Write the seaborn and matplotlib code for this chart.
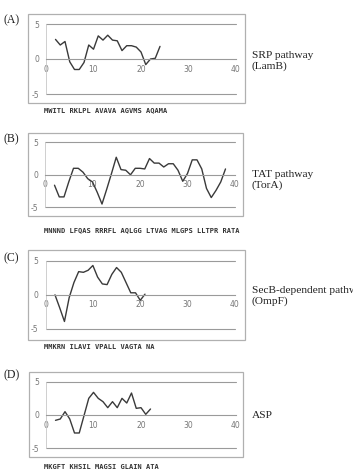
import numpy as np
import pandas as pd
import matplotlib
matplotlib.use("Agg")
import matplotlib.pyplot as plt
from matplotlib.patches import Rectangle
import seaborn as sns

# ---- data ----
a_pos = list(range(2, 25))
a_vals = [2.8, 2.0, 2.5, -0.4, -1.5, -1.5, -0.5, 2.0, 1.4, 3.3, 2.7, 3.4, 2.7, 2.6,
          1.2, 1.9, 1.9, 1.7, 1.0, -0.8, 0.0, 0.1, 1.8]
b_pos = list(range(2, 39))
b_vals = [-1.6, -3.4, -3.4, -1.1, 1.0, 1.0, 0.4, -0.6, -1.1, -2.7, -4.5, -2.2, 0.2,
          2.7, 0.8, 0.7, 0.0, 1.0, 1.0, 0.9, 2.5, 1.8, 1.8, 1.2, 1.7, 1.7, 0.7, -1.0,
          0.2, 2.3, 2.3, 0.9, -2.1, -3.5, -2.4, -1.1, 0.9]
c_pos = list(range(2, 22))
c_vals = [0.0, -1.9, -3.9, -0.4, 1.8, 3.4, 3.3, 3.6, 4.3, 2.6, 1.6, 1.5, 3.0, 4.0,
          3.3, 1.8, 0.3, 0.3, -0.8, 0.1]
d_pos = list(range(2, 23))
d_vals = [-0.8, -0.6, 0.5, -0.6, -2.7, -2.7, -0.1, 2.5, 3.4, 2.5, 2.0, 1.1, 2.0, 1.1,
          2.5, 1.8, 3.3, 1.0, 1.1, 0.1, 0.9]

panel_labels = ["(A)", "(B)", "(C)", "(D)"]
pathway_labels = ["SRP pathway\n(LamB)", "TAT pathway\n(TorA)",
                  "SecB-dependent pathway\n(OmpF)", "ASP"]
sequences = ["MWITL RKLPL AVAVA AGVMS AQAMA",
             "MNNND LFQAS RRRFL AQLGG LTVAG MLGPS LLTPR RATA",
             "MMKRN ILAVI VPALL VAGTA NA",
             "MKGFT KHSIL MAGSI GLAIN ATA"]
x_ticks = [0, 10, 20, 30, 40]
y_ticks = [-5, 0, 5]

series = [(a_pos, a_vals), (b_pos, b_vals), (c_pos, c_vals), (d_pos, d_vals)]

# ---- layout (pixels) ----
W, H = 353, 471
axes_px = [(46, 24, 236, 94), (45, 142.3, 235, 207.3),
           (45.5, 260.7, 235, 329), (46, 381.7, 236, 448.3)]
box_px = [(28, 14, 245, 103), (28, 133, 243, 216), (28, 250, 245, 340), (29, 372, 243, 457)]
label_y = [20, 139, 258, 375]
seq_y = [110, 230, 347, 467]
path_y = [61, 180, 296, 415]

sns.set_theme(style="white")
plt.rcParams['font.family'] = ['DejaVu Sans']

fig = plt.figure(figsize=(W / 100, H / 100), dpi=100)

def fx(px):
    return px / W

def fy(py):
    return 1 - py / H

gray = "#9a9a9a"
for i, (pos, vals) in enumerate(series):
    x0, y0, x1, y1 = axes_px[i]
    bx0, by0, bx1, by1 = box_px[i]
    fig.patches.append(Rectangle((fx(bx0), fy(by1)), fx(bx1 - bx0), (by1 - by0) / H,
                                 transform=fig.transFigure, fill=False,
                                 edgecolor="#b0b0b0", linewidth=0.9))
    ax = fig.add_axes([fx(x0), fy(y1), fx(x1 - x0), (y1 - y0) / H])
    df = pd.DataFrame({"pos": pos, "val": vals})
    sns.lineplot(data=df, x="pos", y="val", ax=ax, color="#3a3a3a", linewidth=1.0)
    ax.set_xlim(0, 40)
    ax.set_ylim(-5, 5)
    ax.set_xticks(x_ticks)
    ax.set_yticks(y_ticks)
    ax.set_xticklabels([str(t) for t in x_ticks])
    ax.set_yticklabels([str(t) for t in y_ticks])
    ax.set_xlabel("")
    ax.set_ylabel("")
    ax.patch.set_alpha(0)
    for s in ["top", "right"]:
        ax.spines[s].set_visible(False)
    ax.spines["bottom"].set_position(("data", 0))
    ax.spines["bottom"].set_color(gray)
    ax.spines["bottom"].set_linewidth(0.8)
    ax.spines["left"].set_color("#c8c8c8")
    ax.spines["left"].set_linewidth(0.6)
    for yv in (5, -5):
        ax.axhline(yv, color=gray, linewidth=0.8, zorder=0, clip_on=False)
    ax.tick_params(axis="x", direction="in", length=2, width=0.6, color=gray,
                   labelsize=5.5, labelcolor="#777777", pad=4)
    ax.tick_params(axis="y", length=0, labelsize=5.5, labelcolor="#777777", pad=5)
    ax.grid(False)

    fig.text(fx(4), fy(label_y[i]), panel_labels[i], family="Liberation Serif",
             fontsize=8.5, va="center", ha="left", color="#222222")
    fig.text(fx(252), fy(path_y[i]), pathway_labels[i], family="Liberation Serif",
             fontsize=8.2, va="center", ha="left", color="#222222", linespacing=1.3)
    fig.text(fx(44), fy(seq_y[i]), sequences[i], family="DejaVu Sans Mono",
             fontsize=5.0, fontweight="bold", va="center", ha="left", color="#333333")

fig.savefig("out.png", dpi=100)
